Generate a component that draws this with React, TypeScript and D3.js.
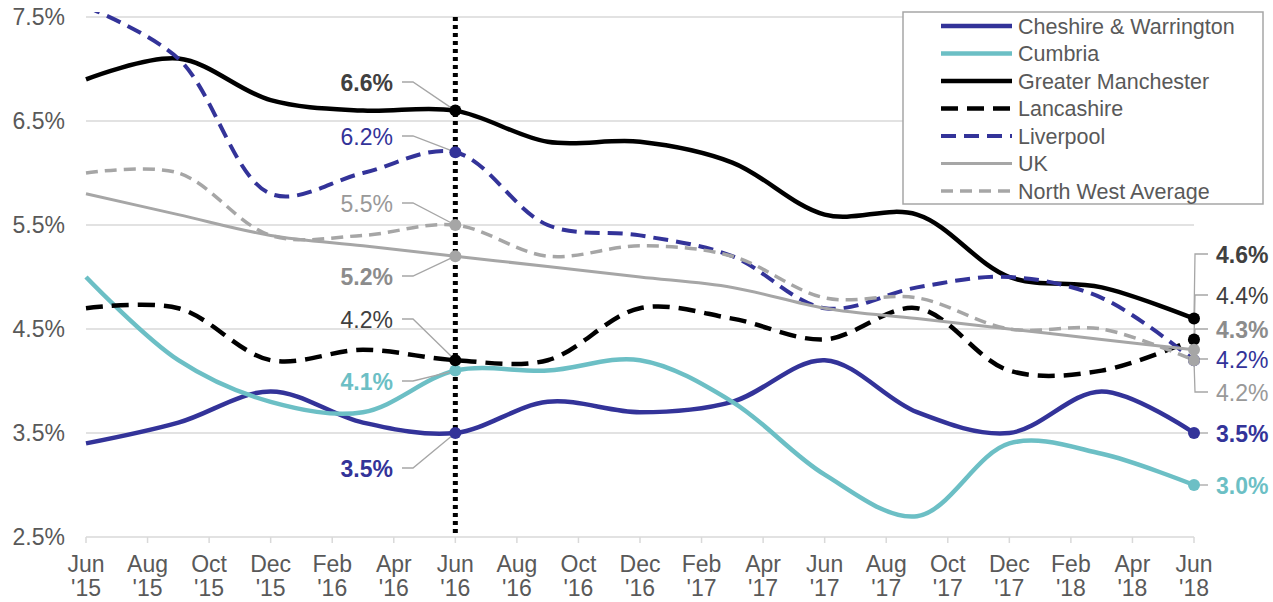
import * as d3 from "d3";

// quarterly readings, Jun '15 .. Jun '18 (month index 0, 3, 6 ... 36)
const quarterIndex = [0, 3, 6, 9, 12, 15, 18, 21, 24, 27, 30, 33, 36];

const cheshire = [3.4, 3.6, 3.9, 3.6, 3.5, 3.8, 3.7, 3.8, 4.2, 3.7, 3.5, 3.9, 3.5];
const cumbria = [5.0, 4.2, 3.8, 3.7, 4.1, 4.1, 4.2, 3.8, 3.1, 2.7, 3.4, 3.3, 3.0];
const greaterManchester = [6.9, 7.1, 6.7, 6.6, 6.6, 6.3, 6.3, 6.1, 5.6, 5.6, 5.0, 4.9, 4.6];
const lancashire = [4.7, 4.7, 4.2, 4.3, 4.2, 4.2, 4.7, 4.6, 4.4, 4.7, 4.1, 4.1, 4.4];
const liverpool = [7.6, 7.1, 5.8, 6.0, 6.2, 5.5, 5.4, 5.2, 4.7, 4.9, 5.0, 4.8, 4.2];
const uk = [5.8, 5.6, 5.4, 5.3, 5.2, 5.1, 5.0, 4.9, 4.7, 4.6, 4.5, 4.4, 4.3];
const nwAverage = [6.0, 6.0, 5.4, 5.4, 5.5, 5.2, 5.3, 5.2, 4.8, 4.8, 4.5, 4.5, 4.2];

const tickMonths = ["Jun", "Aug", "Oct", "Dec", "Feb", "Apr", "Jun", "Aug", "Oct", "Dec", "Feb", "Apr", "Jun", "Aug", "Oct", "Dec", "Feb", "Apr", "Jun"];
const tickYears = ["'15", "'15", "'15", "'15", "'16", "'16", "'16", "'16", "'16", "'16", "'17", "'17", "'17", "'17", "'17", "'17", "'18", "'18", "'18"];
const yTicks = [2.5, 3.5, 4.5, 5.5, 6.5, 7.5];

const highlightIdx = 4; // Jun '16
const lastIdx = 12; // Jun '18

const FONT = "'Liberation Sans', Arial, sans-serif";
const BLUE = "#333399";
const TEAL = "#6cbfc5";
const GREY = "#a6a6a6";

interface SeriesDef {
  name: string;
  values: number[];
  color: string;
  width: number;
  dash?: string;
  labelColor: string;
  bold: boolean;
  leftY: number; // label baseline at Jun '16
  rightY: number; // label baseline at Jun '18
}

const series: SeriesDef[] = [
  { name: "Cheshire & Warrington", values: cheshire, color: BLUE, width: 4.5, labelColor: BLUE, bold: true, leftY: 477, rightY: 442 },
  { name: "Cumbria", values: cumbria, color: TEAL, width: 4.5, labelColor: TEAL, bold: true, leftY: 390, rightY: 494 },
  { name: "Greater Manchester", values: greaterManchester, color: "#000", width: 4.5, labelColor: "#404040", bold: true, leftY: 91, rightY: 263 },
  { name: "Lancashire", values: lancashire, color: "#000", width: 4.5, dash: "17 9", labelColor: "#404040", bold: false, leftY: 328, rightY: 304 },
  { name: "Liverpool", values: liverpool, color: BLUE, width: 4, dash: "15 8", labelColor: BLUE, bold: false, leftY: 145, rightY: 368 },
  { name: "UK", values: uk, color: GREY, width: 3, labelColor: "#8c8c8c", bold: true, leftY: 285, rightY: 338 },
  { name: "North West Average", values: nwAverage, color: GREY, width: 3.5, dash: "12 7", labelColor: "#999999", bold: false, leftY: 212, rightY: 401 },
];

const fmt = (v: number) => d3.format(".1f")(v) + "%";

export default function App() {
  const width = 1273;
  const height = 602;
  const x = d3.scaleLinear().domain([0, 36]).range([86, 1194]);
  const y = d3.scaleLinear().domain([2.5, 7.5]).range([537, 17]);

  const line = d3
    .line<number>()
    .x((_, i) => x(quarterIndex[i]))
    .y((d) => y(d))
    .curve(d3.curveCatmullRom.alpha(0.5));

  const hx = x(quarterIndex[highlightIdx]);
  const lx = x(quarterIndex[lastIdx]);

  return (
    <div style={{ position: "absolute", left: 0, top: 0 }}>
      <svg width={width} height={height} style={{ display: "block", fontFamily: FONT }}>
        <defs>
          <clipPath id="plot">
            <rect x={60} y={12} width={1160} height={540} />
          </clipPath>
        </defs>

        {/* gridlines */}
        {yTicks.map((t) => (
          <g key={t}>
            {t > 2.5 && (
              <line x1={x(0)} x2={x(36)} y1={y(t)} y2={y(t)} stroke="#d9d9d9" strokeWidth={1.5} />
            )}
            <text x={65} y={y(t) + 8} textAnchor="end" fontSize={23} fill="#595959">
              {d3.format(".1f")(t)}%
            </text>
          </g>
        ))}

        {/* x axis */}
        <line x1={x(0)} x2={x(36)} y1={y(2.5)} y2={y(2.5)} stroke="#d9d9d9" strokeWidth={1.5} />
        {tickMonths.map((m, i) => (
          <g key={i}>
            <line x1={x(i * 2)} x2={x(i * 2)} y1={y(2.5)} y2={y(2.5) + 6} stroke="#d9d9d9" strokeWidth={1.5} />
            <text x={x(i * 2)} y={572} textAnchor="middle" fontSize={23} fill="#595959">{m}</text>
            <text x={x(i * 2)} y={596} textAnchor="middle" fontSize={23} fill="#595959">{tickYears[i]}</text>
          </g>
        ))}

        {/* Jun '16 marker line */}
        <line x1={hx} x2={hx} y1={17} y2={y(2.5)} stroke="#000" strokeWidth={5} strokeDasharray="4 4" />

        {/* series */}
        <g clipPath="url(#plot)">
          {series.map((s) => (
            <path
              key={s.name}
              d={line(s.values) || ""}
              fill="none"
              stroke={s.color}
              strokeWidth={s.width}
              strokeDasharray={s.dash}
              strokeLinejoin="round"
            />
          ))}
        </g>

        {/* leader lines + labels */}
        {series.map((s) => {
          const py = y(s.values[highlightIdx]);
          const cy = s.leftY - 9;
          const ry = y(s.values[lastIdx]);
          const rc = s.rightY - 9;
          return (
            <g key={s.name + "-lbl"}>
              <path d={`M402,${cy}L413,${cy}L${hx},${py}`} fill="none" stroke={GREY} strokeWidth={1.3} />
              <path d={`M${lx},${ry}L${lx + 1},${rc}L1208,${rc}`} fill="none" stroke={GREY} strokeWidth={1.3} />
              <text x={393} y={s.leftY} textAnchor="end" fontSize={23} fontWeight={s.bold ? "bold" : "normal"} fill={s.labelColor}>
                {fmt(s.values[highlightIdx])}
              </text>
              <text x={1216} y={s.rightY} fontSize={23} fontWeight={s.bold ? "bold" : "normal"} fill={s.labelColor}>
                {fmt(s.values[lastIdx])}
              </text>
            </g>
          );
        })}

        {/* markers */}
        {series.map((s) => (
          <g key={s.name + "-pt"} fill={s.color}>
            <circle cx={hx} cy={y(s.values[highlightIdx])} r={6} />
            <circle cx={lx} cy={y(s.values[lastIdx])} r={6} />
          </g>
        ))}

        {/* legend */}
        <g>
          <rect x={903} y={12} width={360} height={192} fill="#fff" stroke={GREY} strokeWidth={1.5} />
          {series.map((s, i) => {
            const ly = 26 + i * 27.5;
            return (
              <g key={s.name + "-leg"}>
                <line x1={941} x2={1012} y1={ly} y2={ly} stroke={s.color} strokeWidth={s.width} strokeDasharray={s.dash} />
                <text x={1018} y={ly + 7.5} fontSize={21.5} fill="#595959">{s.name}</text>
              </g>
            );
          })}
        </g>
      </svg>
    </div>
  );
}
